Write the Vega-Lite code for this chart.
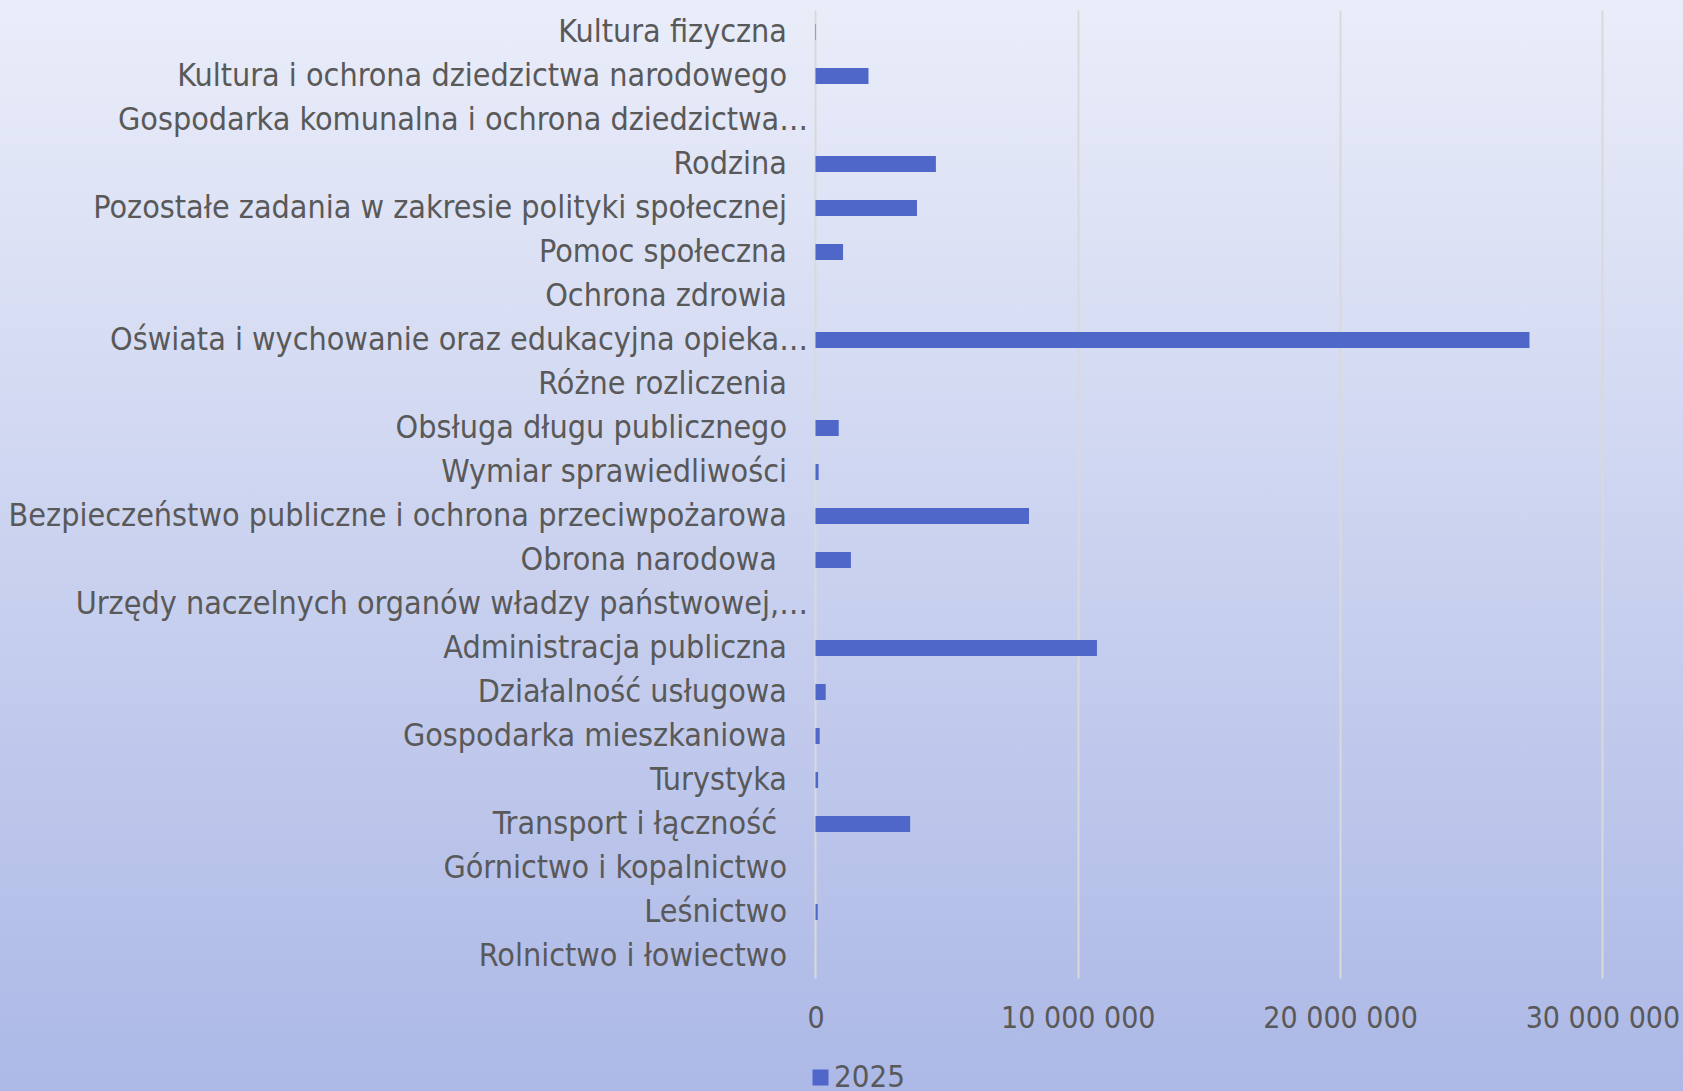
{
  "$schema": "https://vega.github.io/schema/vega-lite/v6.json",
  "width": 1683,
  "height": 1091,
  "padding": 0,
  "autosize": {"type": "none"},
  "background": "#CDD3F0",
  "config": {
    "view": {
      "stroke": null,
      "fill": {"gradient": "linear", "x1": 0, "y1": 0, "x2": 0, "y2": 1, "stops": [{"offset": 0, "color": "#EAEDF9"}, {"offset": 1, "color": "#ACB8E6"}]}
    },
    "font": "DejaVu Sans Condensed"
  },
  "data": {
    "values": [
      {"kategoria": "Kultura fizyczna", "wartosc": 20000, "rok": "2025"},
      {"kategoria": "Kultura i ochrona dziedzictwa narodowego", "wartosc": 2020000, "rok": "2025"},
      {"kategoria": "Gospodarka komunalna i ochrona dziedzictwa…", "wartosc": 0, "rok": "2025"},
      {"kategoria": "Rodzina", "wartosc": 4590000, "rok": "2025"},
      {"kategoria": "Pozostałe zadania w zakresie polityki społecznej", "wartosc": 3870000, "rok": "2025"},
      {"kategoria": "Pomoc społeczna", "wartosc": 1050000, "rok": "2025"},
      {"kategoria": "Ochrona zdrowia", "wartosc": 0, "rok": "2025"},
      {"kategoria": "Oświata i wychowanie oraz edukacyjna opieka…", "wartosc": 27220000, "rok": "2025"},
      {"kategoria": "Różne rozliczenia", "wartosc": 0, "rok": "2025"},
      {"kategoria": "Obsługa długu publicznego", "wartosc": 885000, "rok": "2025"},
      {"kategoria": "Wymiar sprawiedliwości", "wartosc": 120000, "rok": "2025"},
      {"kategoria": "Bezpieczeństwo publiczne i ochrona przeciwpożarowa", "wartosc": 8140000, "rok": "2025"},
      {"kategoria": "Obrona narodowa", "wartosc": 1350000, "rok": "2025"},
      {"kategoria": "Urzędy naczelnych organów władzy państwowej,…", "wartosc": 0, "rok": "2025"},
      {"kategoria": "Administracja publiczna", "wartosc": 10730000, "rok": "2025"},
      {"kategoria": "Działalność usługowa", "wartosc": 390000, "rok": "2025"},
      {"kategoria": "Gospodarka mieszkaniowa", "wartosc": 160000, "rok": "2025"},
      {"kategoria": "Turystyka", "wartosc": 100000, "rok": "2025"},
      {"kategoria": "Transport i łączność", "wartosc": 3610000, "rok": "2025"},
      {"kategoria": "Górnictwo i kopalnictwo", "wartosc": 0, "rok": "2025"},
      {"kategoria": "Leśnictwo", "wartosc": 85000, "rok": "2025"},
      {"kategoria": "Rolnictwo i łowiectwo", "wartosc": 0, "rok": "2025"}
    ]
  },
  "mark": {"type": "bar"},
  "encoding": {
    "y": {
      "field": "kategoria",
      "type": "nominal",
      "sort": null,
      "scale": {"range": [10, 978], "paddingInner": 0.636, "paddingOuter": 0.318},
      "axis": {
        "title": null,
        "orient": "left",
        "offset": -815.5,
        "domain": false,
        "ticks": false,
        "grid": false,
        "labelFontSize": 32,
        "labelColor": "#595959",
        "labelLimit": 0,
        "labelPadding": {
          "condition": [
            {"test": "indexof(datum.label, '…') >= 0", "value": 8},
            {"test": "datum.label == 'Obrona narodowa' || datum.label == 'Transport i łączność'", "value": 39}
          ],
          "value": 29
        }
      }
    },
    "x": {
      "field": "wartosc",
      "type": "quantitative",
      "scale": {"domain": [-31090000, 33073000], "nice": false, "zero": false},
      "axis": {
        "title": null,
        "orient": "bottom",
        "offset": -113,
        "values": [0, 10000000, 20000000, 30000000],
        "domain": false,
        "grid": false,
        "ticks": true,
        "tickSize": -968,
        "tickColor": "#D9D9D9",
        "tickWidth": 2,
        "labelPadding": 993,
        "labelFontSize": 30,
        "labelColor": "#595959",
        "labelFlush": false,
        "labelExpr": "replace(replace(replace(format(datum.value, ','), ',', ' '), ',', ' '), ',', ' ')"
      }
    },
    "color": {
      "field": "rok",
      "type": "nominal",
      "scale": {"range": ["#4E67C8"]},
      "legend": {
        "title": null,
        "orient": "none",
        "legendX": 805,
        "legendY": 1062,
        "padding": 0,
        "symbolType": "square",
        "symbolSize": 256,
        "symbolStrokeWidth": 0,
        "labelFontSize": 31,
        "labelColor": "#595959",
        "labelOffset": -2
      }
    }
  }
}
